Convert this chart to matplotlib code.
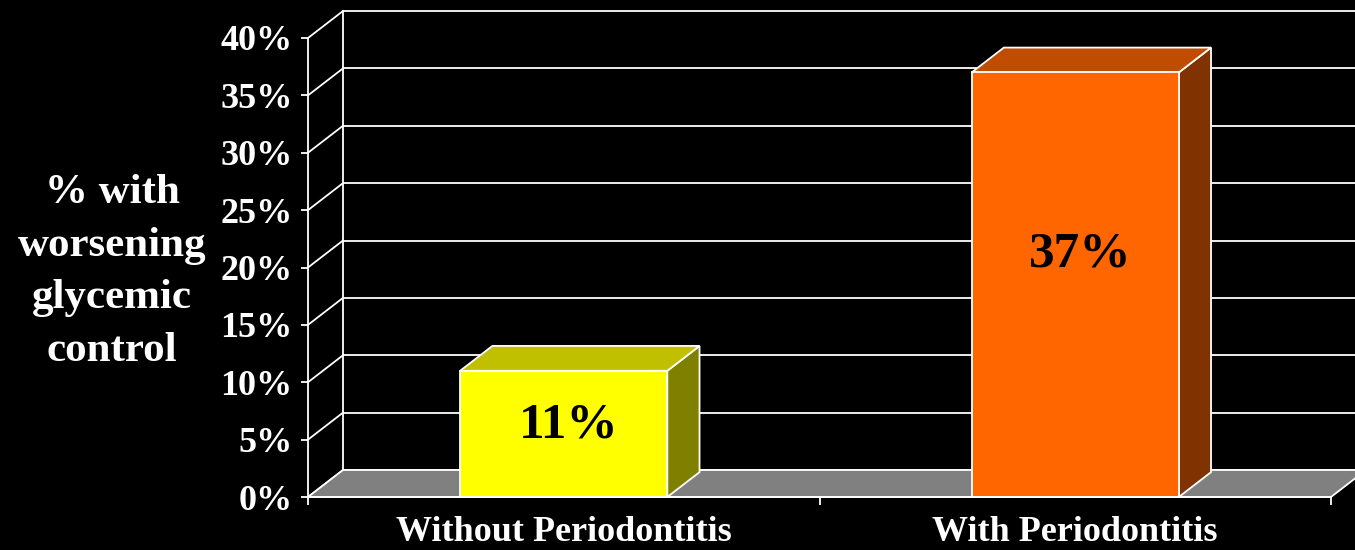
import matplotlib
matplotlib.use("Agg")
import matplotlib.pyplot as plt
from matplotlib.patches import Polygon

# ---- data ----
categories = ["Without Periodontitis", "With Periodontitis"]
values = [11, 37]
value_labels = ["11%", "37%"]
y_ticks = [0, 5, 10, 15, 20, 25, 30, 35, 40]
y_tick_labels = ["0%", "5%", "10%", "15%", "20%", "25%", "30%", "35%", "40%"]
y_label = "% with\nworsening\nglycemic\ncontrol"

front_colors = ["#FFFF00", "#FF6600"]
top_colors = ["#C0C000", "#C04C00"]
side_colors = ["#808000", "#803300"]

plt.rcParams['font.family'] = ['Liberation Serif', 'DejaVu Serif']
plt.rcParams['font.weight'] = 'bold'

W, H = 1355, 550
fig = plt.figure(figsize=(W / 100, H / 100), dpi=100, facecolor='black')
ax = fig.add_axes([308 / W, 53 / H, 1023 / W, 459 / H])
ax.set_facecolor('none')
n = len(categories)
ax.set_xlim(0, n)
ax.set_ylim(0, 40)

# depth offsets in data units
dx = 35 / 511.5
dy = 27 / 11.475
lw = 1.3
ec = 'white'

# back wall gridlines
for t in y_ticks:
    ax.plot([dx, n + dx], [t + dy, t + dy], color=ec, lw=lw, clip_on=False, zorder=1)
ax.plot([dx, dx], [dy, 40 + dy], color=ec, lw=lw, clip_on=False, zorder=1)
# left wall diagonals
for t in y_ticks:
    ax.plot([0, dx], [t, t + dy], color=ec, lw=lw, clip_on=False, zorder=1)

# floor
floor = Polygon([(0, 0), (n, 0), (n + dx, dy), (dx, dy)], closed=True,
                facecolor='#808080', edgecolor=ec, lw=lw, clip_on=False, zorder=2)
ax.add_patch(floor)

# bars
bw = 0.405
bd = 0.92
for i, v in enumerate(values):
    x0 = i + 0.5 - bw / 2
    x1 = x0 + bw
    ddx, ddy = dx * bd, dy * bd
    front = Polygon([(x0, 0), (x1, 0), (x1, v), (x0, v)], closed=True,
                    facecolor=front_colors[i], edgecolor=ec, lw=lw, clip_on=False, zorder=4)
    top = Polygon([(x0, v), (x1, v), (x1 + ddx, v + ddy), (x0 + ddx, v + ddy)], closed=True,
                  facecolor=top_colors[i], edgecolor=ec, lw=lw, clip_on=False, zorder=3)
    side = Polygon([(x1, 0), (x1 + ddx, ddy), (x1 + ddx, v + ddy), (x1, v)], closed=True,
                   facecolor=side_colors[i], edgecolor=ec, lw=lw, clip_on=False, zorder=3)
    ax.add_patch(side)
    ax.add_patch(top)
    ax.add_patch(front)
    ax.text(i + 0.51, v * 0.57, value_labels[i], ha='center', va='center',
            fontsize=37, fontweight='bold', color='black', zorder=5)

# axes styling
for s in ['top', 'right']:
    ax.spines[s].set_visible(False)
for s in ['left', 'bottom']:
    ax.spines[s].set_color(ec)
    ax.spines[s].set_linewidth(lw)
    ax.spines[s].set_zorder(6)
ax.set_yticks(y_ticks)
ax.set_yticklabels(y_tick_labels)
ax.set_xticks(range(n + 1))
ax.set_xticklabels([])
ax.set_xticks([i + 0.5 for i in range(n)], minor=True)
ax.set_xticklabels(categories, minor=True)
ax.tick_params(axis='y', colors=ec, length=5, width=lw, pad=6, labelsize=26)
ax.tick_params(axis='x', which='major', colors=ec, length=6, width=lw)
ax.tick_params(axis='x', which='minor', colors=ec, length=0, pad=14, labelsize=26)
for lab in ax.get_yticklabels() + ax.get_xticklabels(minor=True):
    lab.set_fontweight('bold')

fig.text(112 / W, 1 - 272 / H, y_label, ha='center', va='center', color='white',
         fontsize=31, fontweight='bold', linespacing=1.5)

fig.savefig('out.png', dpi=100, facecolor='black')
